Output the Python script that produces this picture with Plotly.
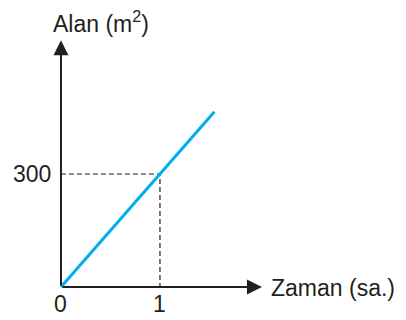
import plotly.graph_objects as go

## Data
# ======================================
zaman = [0, 1.55]          # saat
alan = [0, 465]            # m2
ref_x = 1
ref_y = 300
x_ticks = [0, 1]
y_ticks = [300]
x_max = 2.03
y_max = 655

fig = go.Figure()

# dashed guides
fig.add_trace(go.Scatter(x=[0, ref_x, ref_x], y=[ref_y, ref_y, 0], mode='lines',
                         line=dict(width=1.2, color='#231F20', dash='5px,3px')))

# blue line
fig.add_trace(go.Scatter(x=zaman, y=alan, mode='lines',
                         line=dict(width=3, color='#00AEEF')))

ink = '#231F20'
font = dict(family='Liberation Sans, Arial', size=23, color=ink)

# axes with arrows
fig.add_annotation(x=x_max, y=0, ax=0, ay=0, xref='x', yref='y', axref='x', ayref='y',
                   text='', showarrow=True, arrowhead=2, arrowsize=1.5, arrowwidth=2, arrowcolor=ink)
fig.add_annotation(x=0, y=y_max, ax=0, ay=0, xref='x', yref='y', axref='x', ayref='y',
                   text='', showarrow=True, arrowhead=2, arrowsize=1.5, arrowwidth=2, arrowcolor=ink)

# tick labels
for t in x_ticks:
    fig.add_annotation(x=t, y=0, text=str(t), showarrow=False, yshift=-17, font=font)
for t in y_ticks:
    fig.add_annotation(x=0, y=t, text=str(t), showarrow=False, xanchor='right', xshift=-8, font=font)

# axis titles
fig.add_annotation(x=x_max, y=0, text='Zaman (sa.)', showarrow=False, xanchor='left', xshift=7, yshift=-1, font=font)
fig.add_annotation(x=0, y=y_max, text='Alan (m<sup>2</sup>)', showarrow=False, xanchor='left', yanchor='bottom',
                   xshift=-10, yshift=1, font=font)

# page has an 8px body margin, ranges are shifted to compensate
fig.update_xaxes(range=[-0.535, 3.566], visible=False)
fig.update_yaxes(range=[-108.8, 740.7], visible=False)
fig.update_layout(width=406, height=320, margin=dict(l=0, r=0, t=0, b=0),
                  showlegend=False, plot_bgcolor='white', paper_bgcolor='white')

fig.write_html("out.html")
